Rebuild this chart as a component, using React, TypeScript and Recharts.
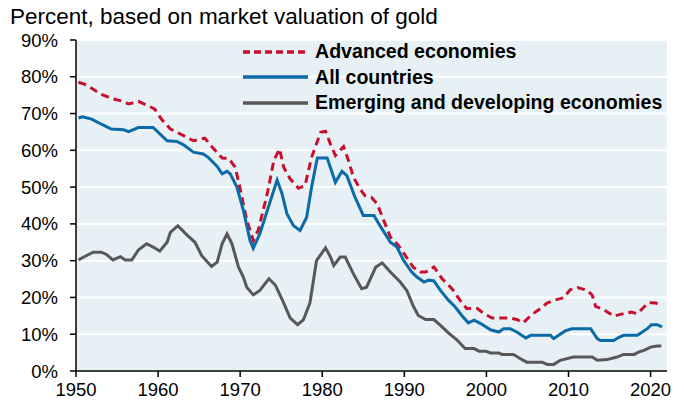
import { LineChart, Line, XAxis, YAxis, CartesianGrid } from 'recharts';

const FONT = '"Liberation Sans", Arial, sans-serif';

const title = 'Percent, based on market valuation of gold';

const xTicks = [1950, 1960, 1970, 1980, 1990, 2000, 2010, 2020];
const yTicks = [0, 10, 20, 30, 40, 50, 60, 70, 80, 90];

// [year, percent]
const advanced: [number, number][] = [
  [1950.3, 78.5], [1951, 78.0], [1951.8, 77], [1953, 75.3], [1954.5, 74], [1955.8, 73.3],
  [1956.4, 72.6], [1957.6, 73.3], [1958.8, 72.1], [1959.6, 71.2], [1960.4, 68.5], [1961.5, 65.8],
  [1963.1, 64], [1964.3, 62.6], [1965.7, 63.3], [1966.7, 60.6], [1967.8, 57.9], [1968.6, 57.8],
  [1969.4, 55.4], [1970, 49.5], [1970.8, 41], [1971.6, 35.5], [1972.2, 38.3], [1973.3, 48.2],
  [1974.1, 57.2], [1974.8, 60.4], [1975.3, 55.4], [1976.1, 52.2], [1977.1, 49.7], [1977.9, 50.4],
  [1978.7, 58.1], [1979.8, 64.9], [1980.4, 65.2], [1981, 61.7], [1981.6, 58.6], [1982.6, 61],
  [1983.2, 57.2], [1983.8, 52.7], [1984.6, 49.5], [1985.2, 47.7], [1986, 47.2], [1986.7, 45.4],
  [1987.5, 40.9], [1988.3, 36.4], [1989.3, 34.1], [1990.3, 30.8], [1991.1, 28.2], [1992, 26.9],
  [1992.6, 26.9], [1993.6, 28.3], [1994.6, 25.1], [1995.8, 22.4], [1996.8, 19.2], [1997.6, 17],
  [1998.9, 17], [1999.7, 15.6], [2000.7, 14.4], [2002.9, 14.4], [2003.7, 14], [2004.5, 13.1],
  [2005.4, 15.1], [2006.4, 16.7], [2007.4, 18.5], [2008.2, 19.2], [2009.4, 19.9], [2010.2, 22.1],
  [2011.1, 22.7], [2012.3, 21.9], [2012.9, 20.6], [2013.3, 17.6], [2014.3, 16.7], [2015.5, 14.9],
  [2016.7, 15.6], [2017.6, 16], [2018.4, 15.6], [2019.2, 17.4], [2019.8, 18.6], [2020.6, 18.5],
  [2021.3, 17.9],
];

const allCountries: [number, number][] = [
  [1950.3, 68.8], [1950.8, 69.1], [1951.9, 68.5], [1953.1, 67.1], [1954.3, 65.8], [1955.8, 65.6],
  [1956.4, 65.1], [1957.6, 66.2], [1959.4, 66.2], [1961.1, 62.6], [1962.3, 62.4], [1963.1, 61.5],
  [1964.3, 59.5], [1965.5, 59], [1966.1, 58.1], [1967.2, 55.6], [1967.8, 53.6], [1968.4, 54.3],
  [1968.8, 53.6], [1969.6, 50], [1970.4, 43.6], [1971.2, 35.5], [1971.6, 33.4], [1972.4, 37.3],
  [1973.3, 43.6], [1974.5, 51.9], [1975.1, 48.2], [1975.7, 42.7], [1976.5, 39.5], [1977.3, 38.2],
  [1978.1, 41.8], [1978.7, 50], [1979.4, 57.9], [1980.6, 57.9], [1981.6, 51.3], [1982.4, 54.3],
  [1983, 53.1], [1984, 47.2], [1985, 42.3], [1986.3, 42.3], [1986.9, 40], [1988.3, 35],
  [1989.1, 33.7], [1989.9, 30.1], [1990.9, 26.9], [1991.5, 25.6], [1992.4, 24.2], [1993, 24.7],
  [1993.6, 24.5], [1994.4, 21.9], [1995.4, 19.2], [1996.2, 17.4], [1997, 15.1], [1997.8, 13.1],
  [1998.5, 13.8], [1999.3, 12.9], [2000.5, 11.2], [2001.5, 10.6], [2002.1, 11.5], [2002.9, 11.5],
  [2003.7, 10.6], [2004.8, 9], [2005.4, 9.7], [2007.8, 9.7], [2008.2, 8.8], [2008.8, 9.7],
  [2009.6, 10.9], [2010.4, 11.5], [2012.7, 11.5], [2013.5, 8.8], [2013.9, 8.3], [2015.5, 8.3],
  [2016.1, 9.1], [2016.7, 9.7], [2018.4, 9.7], [2019, 10.6], [2019.6, 11.5], [2020.1, 12.6],
  [2020.8, 12.6], [2021.4, 12],
];

const emerging: [number, number][] = [
  [1950.3, 30.2], [1951.3, 31.4], [1952.1, 32.3], [1953.1, 32.3], [1953.7, 31.7], [1954.5, 30.2],
  [1955.4, 31.1], [1956, 30.2], [1956.8, 30.2], [1957.6, 32.9], [1958.6, 34.6], [1959.4, 33.7],
  [1960.2, 32.6], [1961.1, 35], [1961.5, 37.7], [1962.4, 39.5], [1963.6, 36.8], [1964.5, 35],
  [1965.3, 31.4], [1966.5, 28.4], [1967.2, 29.6], [1967.8, 34.6], [1968.4, 37.3], [1969, 34.6],
  [1969.8, 28.2], [1970.4, 25.5], [1970.8, 22.8], [1971.6, 20.7], [1972.4, 21.9], [1973.5, 25.1],
  [1974.3, 23.3], [1975.2, 19], [1976.1, 14.4], [1977, 12.6], [1977.7, 13.9], [1978.5, 18.5],
  [1979.3, 30], [1980.4, 33.5], [1981, 31], [1981.4, 28.7], [1982.2, 31], [1982.8, 31],
  [1983.8, 26.4], [1984.8, 22.4], [1985.4, 22.8], [1986.5, 28.2], [1987.3, 29.4], [1988.3, 26.9],
  [1989.5, 24.2], [1990.3, 21.9], [1991.1, 17.6], [1991.7, 15.1], [1992.6, 14], [1993.6, 14],
  [1994.4, 12.4], [1995.4, 10.3], [1996.4, 8.5], [1997.4, 6.1], [1998.5, 6.1], [1999.1, 5.4],
  [1999.9, 5.4], [2000.5, 4.9], [2001.5, 4.9], [2001.9, 4.5], [2003.3, 4.5], [2004.1, 3.4],
  [2004.9, 2.4], [2006.8, 2.4], [2007.4, 1.8], [2008.2, 1.8], [2009, 2.9], [2010.6, 3.8],
  [2012.9, 3.8], [2013.5, 2.9], [2014.7, 3.1], [2015.9, 3.8], [2016.7, 4.5], [2018, 4.5],
  [2018.6, 5.2], [2019.2, 5.6], [2020, 6.5], [2020.8, 6.8], [2021.3, 6.8],
];

const series = [
  { name: 'Advanced economies', points: advanced, color: '#c8102e', dash: '8 5' },
  { name: 'All countries', points: allCountries, color: '#0b6aa8', dash: undefined },
  { name: 'Emerging and developing economies', points: emerging, color: '#585858', dash: undefined },
];

const toRows = (pts: [number, number][]) => pts.map(([year, value]) => ({ year, value }));

function LegendBox() {
  return (
    <div style={{ position: 'absolute', left: 243, top: 39, fontFamily: FONT, fontWeight: 'bold', fontSize: 19.6, color: '#000', whiteSpace: 'nowrap' }}>
      {series.map((s) => (
        <div key={s.name} style={{ display: 'flex', alignItems: 'center', height: 25.5 }}>
          <svg width={72} height={10}>
            <line x1={0} y1={5} x2={65} y2={5} stroke={s.color} strokeWidth={3.5}
              strokeDasharray={s.dash === undefined ? undefined : '7 4'} />
          </svg>
          <span>{s.name}</span>
        </div>
      ))}
    </div>
  );
}

export default function App() {
  return (
    <div style={{ position: 'absolute', left: 0, top: 0, width: 684, height: 404, background: '#fff', fontFamily: FONT }}>
      <div style={{ position: 'absolute', left: 10, top: 6, fontSize: 22.5, lineHeight: 1, color: '#000', whiteSpace: 'nowrap' }}>
        {title}
      </div>
      <LineChart width={684} height={404} margin={{ top: 40, right: 17, bottom: 3, left: 0 }}>
        <CartesianGrid vertical={false} stroke="#ffffff" strokeWidth={2} fill="#e7f0f4" fillOpacity={1} />
        <XAxis
          type="number"
          dataKey="year"
          domain={[1950, 2022]}
          ticks={xTicks}
          allowDataOverflow
          height={30}
          tickSize={6}
          tickMargin={6}
          axisLine={{ stroke: '#000', strokeWidth: 1.5 }}
          tickLine={{ stroke: '#000', strokeWidth: 1.5 }}
          tick={{ fill: '#000', fontSize: 18.5, fontFamily: FONT }}
        />
        <YAxis
          type="number"
          domain={[0, 90]}
          ticks={yTicks}
          width={76}
          tickSize={6}
          tickMargin={12}
          tickFormatter={(v) => `${v}%`}
          axisLine={{ stroke: '#000', strokeWidth: 1.5 }}
          tickLine={{ stroke: '#000', strokeWidth: 1.5 }}
          tick={{ fill: '#000', fontSize: 18.5, fontFamily: FONT }}
        />
        {series.map((s) => (
          <Line
            key={s.name}
            data={toRows(s.points)}
            dataKey="value"
            name={s.name}
            type="linear"
            stroke={s.color}
            strokeWidth={3}
            strokeDasharray={s.dash}
            dot={false}
            activeDot={false}
            isAnimationActive={false}
          />
        ))}
      </LineChart>
      <LegendBox />
    </div>
  );
}
